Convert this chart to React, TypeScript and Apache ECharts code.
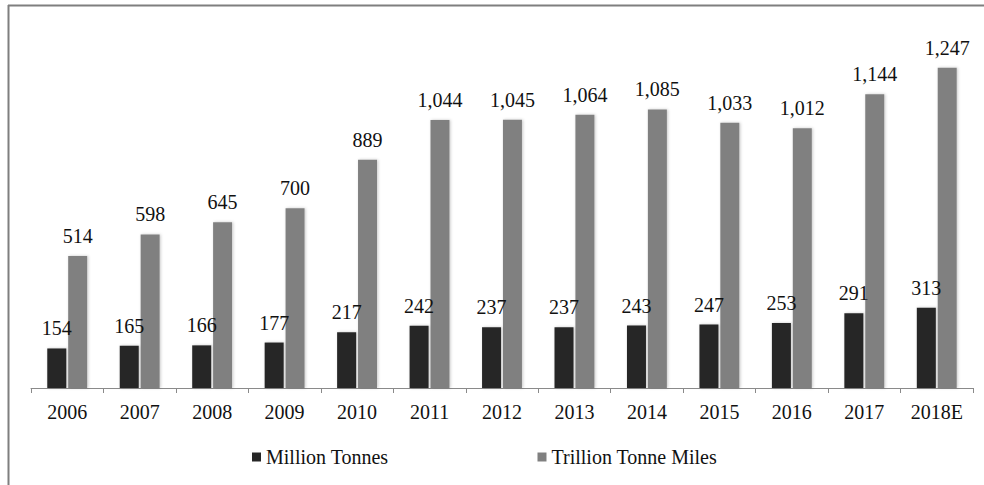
import React, { useEffect, useRef } from "react";
import * as echarts from "echarts";

const categories = ["2006", "2007", "2008", "2009", "2010", "2011", "2012", "2013", "2014", "2015", "2016", "2017", "2018E"];
const millionTonnes = [154, 165, 166, 177, 217, 242, 237, 237, 243, 247, 253, 291, 313];
const trillionTonneMiles = [514, 598, 645, 700, 889, 1044, 1045, 1064, 1085, 1033, 1012, 1144, 1247];
const seriesNames = ["Million Tonnes", "Trillion Tonne Miles"];

const FONT = "Times New Roman, Liberation Serif, serif";

export default function App() {
  const ref = useRef<HTMLDivElement>(null);
  useEffect(() => {
    if (!ref.current) return;
    const chart = echarts.init(ref.current, undefined, { renderer: "svg" });
    const label = {
      show: true,
      position: "top",
      distance: 10,
      color: "#111",
      fontFamily: FONT,
      fontSize: 20,
      formatter: (p: any) => Number(p.value).toLocaleString("en-US"),
    };
    const shadow = {
      shadowBlur: 3,
      shadowColor: "rgba(0,0,0,0.22)",
      shadowOffsetX: 1,
      shadowOffsetY: 0,
    };
    chart.setOption({
      animation: false,
      backgroundColor: "#ffffff",
      textStyle: { fontFamily: FONT },
      grid: { left: 31, right: 11, top: 28.5, bottom: 97 },
      legend: {
        left: 247,
        top: 442,
        icon: "rect",
        itemWidth: 9,
        itemHeight: 9,
        itemGap: 149,
        textStyle: { fontFamily: FONT, fontSize: 20, color: "#111" },
        data: seriesNames,
      },
      xAxis: {
        type: "category",
        data: categories,
        axisLine: { show: true, lineStyle: { color: "#8a8a8a", width: 1 } },
        axisTick: { show: true, length: 5, lineStyle: { color: "#8a8a8a" } },
        axisLabel: { fontFamily: FONT, fontSize: 20, color: "#111", margin: 14 },
      },
      yAxis: {
        type: "value",
        min: 0,
        max: 1400,
        show: false,
        splitLine: { show: false },
      },
      graphic: [
        { type: "line", shape: { x1: 8.5, y1: 5, x2: 8.5, y2: 485 }, style: { stroke: "#7f7f7f", lineWidth: 2 } },
        { type: "line", shape: { x1: 8, y1: 5.5, x2: 984, y2: 5.5 }, style: { stroke: "#7f7f7f", lineWidth: 2 } },
      ],
      series: [
        {
          name: seriesNames[0],
          type: "bar",
          data: millionTonnes,
          barWidth: 19,
          barGap: "10%",
          itemStyle: { color: "#262626", ...shadow },
          label,
        },
        {
          name: seriesNames[1],
          type: "bar",
          data: trillionTonneMiles,
          barWidth: 19,
          barGap: "10%",
          itemStyle: { color: "#808080", ...shadow },
          label,
        },
      ],
    });
    return () => chart.dispose();
  }, []);
  return (
    <div
      ref={ref}
      style={{ position: "absolute", left: 0, top: 0, width: 984, height: 485 }}
    />
  );
}
